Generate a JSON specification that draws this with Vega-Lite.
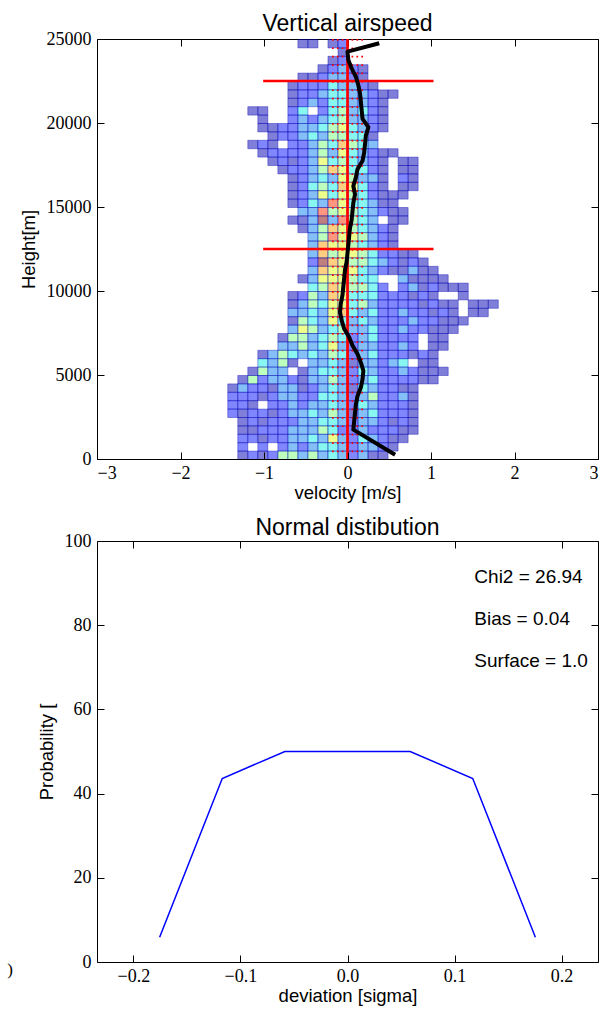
{
"$schema": "https://vega.github.io/schema/vega-lite/v6.json",
"background": "white",
"padding": {"left": 7, "top": 13, "right": 0, "bottom": 5},
"bounds": "flush",
"spacing": 82,
"config": {
  "view": {"stroke": null},
  "axis": {"labelFont": "Liberation Serif", "labelFontSize": 18, "labelColor": "black", "titleFont": "Liberation Sans", "titleFontSize": 18.5, "titleFontWeight": "normal", "titleColor": "black", "domainColor": "black", "tickColor": "black", "tickSize": -7, "grid": false},
  "axisX": {"labelPadding": 12, "titlePadding": 1},
  "axisY": {"labelPadding": 13, "titlePadding": 8},
  "title": {"font": "Liberation Sans", "fontSize": 23, "fontWeight": "normal", "color": "black"}
},
"vconcat": [
{
  "width": 501, "height": 420,
  "title": {"text": "Vertical airspeed", "offset": -24, "baseline": "alphabetic"},
  "layer": [
    {
      "data": {"values": [
{"v":-0.6,"h":24500,"n":0.05},{"v":-0.48,"h":24500,"n":0.05},{"v":-0.24,"h":24500,"n":0.05},{"v":-0.12,"h":24500,"n":0.14},
{"v":-0.12,"h":24000,"n":0.05},
{"v":-0.24,"h":23500,"n":0.05},{"v":-0.12,"h":23500,"n":0.14},
{"v":-0.36,"h":23000,"n":0.05},{"v":-0.24,"h":23000,"n":0.14},{"v":-0.12,"h":23000,"n":0.25},{"v":0,"h":23000,"n":0.14},{"v":0.12,"h":23000,"n":0.05},
{"v":-0.6,"h":22500,"n":0.05},{"v":-0.48,"h":22500,"n":0.05},{"v":-0.36,"h":22500,"n":0.14},{"v":-0.24,"h":22500,"n":0.25},{"v":-0.12,"h":22500,"n":0.25},{"v":0,"h":22500,"n":0.14},{"v":0.12,"h":22500,"n":0.05},
{"v":-0.72,"h":22000,"n":0.05},{"v":-0.6,"h":22000,"n":0.14},{"v":-0.48,"h":22000,"n":0.14},{"v":-0.36,"h":22000,"n":0.14},{"v":-0.24,"h":22000,"n":0.36},{"v":-0.12,"h":22000,"n":0.25},{"v":0,"h":22000,"n":0.25},{"v":0.12,"h":22000,"n":0.14},{"v":0.24,"h":22000,"n":0.05},
{"v":-0.72,"h":21500,"n":0.05},{"v":-0.6,"h":21500,"n":0.14},{"v":-0.48,"h":21500,"n":0.14},{"v":-0.36,"h":21500,"n":0.25},{"v":-0.24,"h":21500,"n":0.36},{"v":-0.12,"h":21500,"n":0.36},{"v":0,"h":21500,"n":0.25},{"v":0.12,"h":21500,"n":0.25},{"v":0.24,"h":21500,"n":0.14},{"v":0.36,"h":21500,"n":0.05},{"v":0.48,"h":21500,"n":0.05},
{"v":-0.72,"h":21000,"n":0.05},{"v":-0.6,"h":21000,"n":0.14},{"v":-0.48,"h":21000,"n":0.25},{"v":-0.36,"h":21000,"n":0.14},{"v":-0.24,"h":21000,"n":0.36},{"v":-0.12,"h":21000,"n":0.36},{"v":0,"h":21000,"n":0.25},{"v":0.12,"h":21000,"n":0.25},{"v":0.24,"h":21000,"n":0.14},{"v":0.36,"h":21000,"n":0.05},
{"v":-1.2,"h":20500,"n":0.05},{"v":-1.08,"h":20500,"n":0.05},{"v":-0.72,"h":20500,"n":0.14},{"v":-0.6,"h":20500,"n":0.36},{"v":-0.36,"h":20500,"n":0.14},{"v":-0.24,"h":20500,"n":0.36},{"v":-0.12,"h":20500,"n":0.5},{"v":0,"h":20500,"n":0.25},{"v":0.12,"h":20500,"n":0.36},{"v":0.24,"h":20500,"n":0.14},{"v":0.36,"h":20500,"n":0.05},
{"v":-1.08,"h":20000,"n":0.05},{"v":-0.72,"h":20000,"n":0.14},{"v":-0.6,"h":20000,"n":0.25},{"v":-0.48,"h":20000,"n":0.14},{"v":-0.36,"h":20000,"n":0.25},{"v":-0.24,"h":20000,"n":0.36},{"v":-0.12,"h":20000,"n":0.5},{"v":0,"h":20000,"n":0.25},{"v":0.12,"h":20000,"n":0.25},{"v":0.24,"h":20000,"n":0.14},{"v":0.36,"h":20000,"n":0.05},
{"v":-1.08,"h":19500,"n":0.05},{"v":-0.96,"h":19500,"n":0.05},{"v":-0.84,"h":19500,"n":0.14},{"v":-0.72,"h":19500,"n":0.14},{"v":-0.6,"h":19500,"n":0.25},{"v":-0.48,"h":19500,"n":0.25},{"v":-0.36,"h":19500,"n":0.36},{"v":-0.24,"h":19500,"n":0.5},{"v":-0.12,"h":19500,"n":0.62},{"v":0,"h":19500,"n":0.36},{"v":0.12,"h":19500,"n":0.25},{"v":0.24,"h":19500,"n":0.14},{"v":0.36,"h":19500,"n":0.05},
{"v":-0.96,"h":19000,"n":0.05},{"v":-0.84,"h":19000,"n":0.14},{"v":-0.72,"h":19000,"n":0.14},{"v":-0.6,"h":19000,"n":0.25},{"v":-0.48,"h":19000,"n":0.36},{"v":-0.36,"h":19000,"n":0.25},{"v":-0.24,"h":19000,"n":0.5},{"v":-0.12,"h":19000,"n":0.5},{"v":0,"h":19000,"n":0.36},{"v":0.12,"h":19000,"n":0.36},{"v":0.24,"h":19000,"n":0.05},
{"v":-1.2,"h":18500,"n":0.05},{"v":-1.08,"h":18500,"n":0.14},{"v":-0.96,"h":18500,"n":0.05},{"v":-0.72,"h":18500,"n":0.14},{"v":-0.6,"h":18500,"n":0.14},{"v":-0.48,"h":18500,"n":0.25},{"v":-0.36,"h":18500,"n":0.5},{"v":-0.24,"h":18500,"n":0.36},{"v":-0.12,"h":18500,"n":0.74},{"v":0,"h":18500,"n":0.5},{"v":0.12,"h":18500,"n":0.36},{"v":0.24,"h":18500,"n":0.25},
{"v":-1.08,"h":18000,"n":0.05},{"v":-0.96,"h":18000,"n":0.14},{"v":-0.84,"h":18000,"n":0.14},{"v":-0.72,"h":18000,"n":0.14},{"v":-0.6,"h":18000,"n":0.14},{"v":-0.48,"h":18000,"n":0.25},{"v":-0.36,"h":18000,"n":0.5},{"v":-0.24,"h":18000,"n":0.25},{"v":-0.12,"h":18000,"n":0.62},{"v":0,"h":18000,"n":0.36},{"v":0.12,"h":18000,"n":0.25},{"v":0.24,"h":18000,"n":0.14},{"v":0.36,"h":18000,"n":0.05},{"v":0.48,"h":18000,"n":0.05},
{"v":-0.96,"h":17500,"n":0.05},{"v":-0.84,"h":17500,"n":0.14},{"v":-0.72,"h":17500,"n":0.05},{"v":-0.6,"h":17500,"n":0.14},{"v":-0.48,"h":17500,"n":0.25},{"v":-0.36,"h":17500,"n":0.62},{"v":-0.24,"h":17500,"n":0.36},{"v":-0.12,"h":17500,"n":0.5},{"v":0,"h":17500,"n":0.36},{"v":0.12,"h":17500,"n":0.25},{"v":0.24,"h":17500,"n":0.14},{"v":0.36,"h":17500,"n":0.05},{"v":0.6,"h":17500,"n":0.05},{"v":0.72,"h":17500,"n":0.05},
{"v":-0.84,"h":17000,"n":0.05},{"v":-0.72,"h":17000,"n":0.14},{"v":-0.6,"h":17000,"n":0.14},{"v":-0.48,"h":17000,"n":0.25},{"v":-0.36,"h":17000,"n":0.5},{"v":-0.24,"h":17000,"n":0.74},{"v":-0.12,"h":17000,"n":0.62},{"v":0,"h":17000,"n":0.36},{"v":0.12,"h":17000,"n":0.36},{"v":0.24,"h":17000,"n":0.14},{"v":0.36,"h":17000,"n":0.05},{"v":0.6,"h":17000,"n":0.05},{"v":0.72,"h":17000,"n":0.05},
{"v":-0.72,"h":16500,"n":0.05},{"v":-0.6,"h":16500,"n":0.14},{"v":-0.48,"h":16500,"n":0.25},{"v":-0.36,"h":16500,"n":0.36},{"v":-0.24,"h":16500,"n":0.25},{"v":-0.12,"h":16500,"n":0.62},{"v":0,"h":16500,"n":0.5},{"v":0.12,"h":16500,"n":0.25},{"v":0.24,"h":16500,"n":0.25},{"v":0.36,"h":16500,"n":0.05},{"v":0.6,"h":16500,"n":0.14},{"v":0.72,"h":16500,"n":0.05},
{"v":-0.72,"h":16000,"n":0.05},{"v":-0.6,"h":16000,"n":0.14},{"v":-0.48,"h":16000,"n":0.36},{"v":-0.36,"h":16000,"n":0.5},{"v":-0.24,"h":16000,"n":0.36},{"v":-0.12,"h":16000,"n":0.74},{"v":0,"h":16000,"n":0.62},{"v":0.12,"h":16000,"n":0.36},{"v":0.24,"h":16000,"n":0.14},{"v":0.36,"h":16000,"n":0.05},{"v":0.6,"h":16000,"n":0.05},{"v":0.72,"h":16000,"n":0.05},
{"v":-0.72,"h":15500,"n":0.05},{"v":-0.6,"h":15500,"n":0.14},{"v":-0.48,"h":15500,"n":0.25},{"v":-0.36,"h":15500,"n":0.62},{"v":-0.24,"h":15500,"n":0.36},{"v":-0.12,"h":15500,"n":0.62},{"v":0,"h":15500,"n":0.5},{"v":0.12,"h":15500,"n":0.36},{"v":0.24,"h":15500,"n":0.14},{"v":0.36,"h":15500,"n":0.05},{"v":0.48,"h":15500,"n":0.05},{"v":0.6,"h":15500,"n":0.05},
{"v":-0.72,"h":15000,"n":0.05},{"v":-0.6,"h":15000,"n":0.14},{"v":-0.48,"h":15000,"n":0.36},{"v":-0.36,"h":15000,"n":0.25},{"v":-0.24,"h":15000,"n":0.86},{"v":-0.12,"h":15000,"n":0.62},{"v":0,"h":15000,"n":0.36},{"v":0.12,"h":15000,"n":0.36},{"v":0.24,"h":15000,"n":0.25},{"v":0.36,"h":15000,"n":0.05},{"v":0.48,"h":15000,"n":0.05},
{"v":-0.6,"h":14500,"n":0.25},{"v":-0.48,"h":14500,"n":0.25},{"v":-0.36,"h":14500,"n":0.86},{"v":-0.24,"h":14500,"n":0.5},{"v":-0.12,"h":14500,"n":0.62},{"v":0,"h":14500,"n":0.5},{"v":0.12,"h":14500,"n":0.36},{"v":0.24,"h":14500,"n":0.25},{"v":0.36,"h":14500,"n":0.14},{"v":0.48,"h":14500,"n":0.05},{"v":0.6,"h":14500,"n":0.05},
{"v":-0.72,"h":14000,"n":0.05},{"v":-0.6,"h":14000,"n":0.05},{"v":-0.48,"h":14000,"n":0.25},{"v":-0.36,"h":14000,"n":1},{"v":-0.24,"h":14000,"n":0.25},{"v":-0.12,"h":14000,"n":0.86},{"v":0,"h":14000,"n":0.5},{"v":0.12,"h":14000,"n":0.36},{"v":0.24,"h":14000,"n":0.25},{"v":0.48,"h":14000,"n":0.05},{"v":0.6,"h":14000,"n":0.05},
{"v":-0.6,"h":13500,"n":0.05},{"v":-0.48,"h":13500,"n":0.25},{"v":-0.36,"h":13500,"n":0.5},{"v":-0.24,"h":13500,"n":0.74},{"v":-0.12,"h":13500,"n":0.62},{"v":0,"h":13500,"n":0.5},{"v":0.12,"h":13500,"n":0.36},{"v":0.24,"h":13500,"n":0.25},{"v":0.36,"h":13500,"n":0.14},{"v":0.48,"h":13500,"n":0.05},
{"v":-0.48,"h":13000,"n":0.25},{"v":-0.36,"h":13000,"n":0.5},{"v":-0.24,"h":13000,"n":0.86},{"v":-0.12,"h":13000,"n":0.62},{"v":0,"h":13000,"n":0.62},{"v":0.12,"h":13000,"n":0.5},{"v":0.24,"h":13000,"n":0.25},{"v":0.36,"h":13000,"n":0.14},{"v":0.48,"h":13000,"n":0.05},
{"v":-0.48,"h":12500,"n":0.25},{"v":-0.36,"h":12500,"n":0.74},{"v":-0.24,"h":12500,"n":0.62},{"v":-0.12,"h":12500,"n":0.62},{"v":0,"h":12500,"n":0.5},{"v":0.12,"h":12500,"n":0.36},{"v":0.24,"h":12500,"n":0.25},{"v":0.36,"h":12500,"n":0.14},{"v":0.48,"h":12500,"n":0.05},
{"v":-0.48,"h":12000,"n":0.25},{"v":-0.36,"h":12000,"n":0.74},{"v":-0.24,"h":12000,"n":0.5},{"v":-0.12,"h":12000,"n":0.62},{"v":0,"h":12000,"n":0.62},{"v":0.12,"h":12000,"n":0.5},{"v":0.24,"h":12000,"n":0.36},{"v":0.36,"h":12000,"n":0.14},{"v":0.48,"h":12000,"n":0.14},{"v":0.6,"h":12000,"n":0.05},{"v":0.72,"h":12000,"n":0.05},
{"v":-0.48,"h":11500,"n":0.14},{"v":-0.36,"h":11500,"n":1},{"v":-0.24,"h":11500,"n":0.74},{"v":-0.12,"h":11500,"n":0.62},{"v":0,"h":11500,"n":0.5},{"v":0.12,"h":11500,"n":0.5},{"v":0.24,"h":11500,"n":0.36},{"v":0.36,"h":11500,"n":0.25},{"v":0.48,"h":11500,"n":0.14},{"v":0.6,"h":11500,"n":0.05},{"v":0.72,"h":11500,"n":0.14},{"v":0.84,"h":11500,"n":0.05},
{"v":-0.48,"h":11000,"n":0.25},{"v":-0.36,"h":11000,"n":0.74},{"v":-0.24,"h":11000,"n":0.62},{"v":-0.12,"h":11000,"n":0.62},{"v":0,"h":11000,"n":0.62},{"v":0.12,"h":11000,"n":0.36},{"v":0.24,"h":11000,"n":0.25},{"v":0.36,"h":11000,"n":0.14},{"v":0.48,"h":11000,"n":0.05},{"v":0.6,"h":11000,"n":0.05},{"v":0.72,"h":11000,"n":0.25},{"v":0.84,"h":11000,"n":0.05},{"v":0.96,"h":11000,"n":0.05},
{"v":-0.6,"h":10500,"n":0.05},{"v":-0.48,"h":10500,"n":0.25},{"v":-0.36,"h":10500,"n":0.62},{"v":-0.24,"h":10500,"n":0.62},{"v":-0.12,"h":10500,"n":0.62},{"v":0,"h":10500,"n":0.5},{"v":0.12,"h":10500,"n":0.36},{"v":0.24,"h":10500,"n":0.36},{"v":0.6,"h":10500,"n":0.25},{"v":0.72,"h":10500,"n":0.05},{"v":0.84,"h":10500,"n":0.05},{"v":0.96,"h":10500,"n":0.05},{"v":1.08,"h":10500,"n":0.05},
{"v":-0.48,"h":10000,"n":0.36},{"v":-0.36,"h":10000,"n":0.5},{"v":-0.24,"h":10000,"n":0.74},{"v":-0.12,"h":10000,"n":0.62},{"v":0,"h":10000,"n":0.5},{"v":0.12,"h":10000,"n":0.5},{"v":0.24,"h":10000,"n":0.36},{"v":0.36,"h":10000,"n":0.14},{"v":0.6,"h":10000,"n":0.14},{"v":0.72,"h":10000,"n":0.25},{"v":0.84,"h":10000,"n":0.05},{"v":0.96,"h":10000,"n":0.14},{"v":1.08,"h":10000,"n":0.05},{"v":1.2,"h":10000,"n":0.05},{"v":1.32,"h":10000,"n":0.05},
{"v":-0.72,"h":9500,"n":0.05},{"v":-0.6,"h":9500,"n":0.14},{"v":-0.48,"h":9500,"n":0.5},{"v":-0.36,"h":9500,"n":0.25},{"v":-0.24,"h":9500,"n":0.74},{"v":-0.12,"h":9500,"n":0.62},{"v":0,"h":9500,"n":0.36},{"v":0.12,"h":9500,"n":0.36},{"v":0.24,"h":9500,"n":0.36},{"v":0.36,"h":9500,"n":0.14},{"v":0.48,"h":9500,"n":0.14},{"v":0.6,"h":9500,"n":0.14},{"v":0.72,"h":9500,"n":0.05},{"v":0.84,"h":9500,"n":0.14},{"v":0.96,"h":9500,"n":0.05},{"v":1.32,"h":9500,"n":0.05},
{"v":-0.72,"h":9000,"n":0.05},{"v":-0.6,"h":9000,"n":0.25},{"v":-0.48,"h":9000,"n":0.5},{"v":-0.36,"h":9000,"n":0.36},{"v":-0.24,"h":9000,"n":0.62},{"v":-0.12,"h":9000,"n":0.62},{"v":0,"h":9000,"n":0.36},{"v":0.12,"h":9000,"n":0.5},{"v":0.24,"h":9000,"n":0.25},{"v":0.36,"h":9000,"n":0.14},{"v":0.48,"h":9000,"n":0.14},{"v":0.6,"h":9000,"n":0.14},{"v":0.72,"h":9000,"n":0.14},{"v":0.84,"h":9000,"n":0.05},{"v":0.96,"h":9000,"n":0.14},{"v":1.08,"h":9000,"n":0.05},{"v":1.2,"h":9000,"n":0.05},{"v":1.44,"h":9000,"n":0.05},{"v":1.56,"h":9000,"n":0.05},{"v":1.68,"h":9000,"n":0.05},
{"v":-0.72,"h":8500,"n":0.25},{"v":-0.6,"h":8500,"n":0.25},{"v":-0.48,"h":8500,"n":0.36},{"v":-0.36,"h":8500,"n":0.25},{"v":-0.24,"h":8500,"n":0.62},{"v":-0.12,"h":8500,"n":0.74},{"v":0,"h":8500,"n":0.36},{"v":0.12,"h":8500,"n":0.25},{"v":0.24,"h":8500,"n":0.36},{"v":0.36,"h":8500,"n":0.14},{"v":0.48,"h":8500,"n":0.14},{"v":0.6,"h":8500,"n":0.25},{"v":0.72,"h":8500,"n":0.14},{"v":0.84,"h":8500,"n":0.14},{"v":0.96,"h":8500,"n":0.05},{"v":1.08,"h":8500,"n":0.14},{"v":1.2,"h":8500,"n":0.05},{"v":1.44,"h":8500,"n":0.05},{"v":1.56,"h":8500,"n":0.05},
{"v":-0.72,"h":8000,"n":0.05},{"v":-0.6,"h":8000,"n":0.5},{"v":-0.48,"h":8000,"n":0.36},{"v":-0.36,"h":8000,"n":0.25},{"v":-0.24,"h":8000,"n":0.62},{"v":-0.12,"h":8000,"n":0.36},{"v":0,"h":8000,"n":0.25},{"v":0.12,"h":8000,"n":0.36},{"v":0.24,"h":8000,"n":0.25},{"v":0.36,"h":8000,"n":0.14},{"v":0.48,"h":8000,"n":0.14},{"v":0.6,"h":8000,"n":0.14},{"v":0.72,"h":8000,"n":0.25},{"v":0.84,"h":8000,"n":0.14},{"v":0.96,"h":8000,"n":0.14},{"v":1.08,"h":8000,"n":0.05},{"v":1.2,"h":8000,"n":0.05},{"v":1.32,"h":8000,"n":0.05},
{"v":-0.72,"h":7500,"n":0.25},{"v":-0.6,"h":7500,"n":0.62},{"v":-0.48,"h":7500,"n":0.5},{"v":-0.36,"h":7500,"n":0.25},{"v":-0.24,"h":7500,"n":0.36},{"v":-0.12,"h":7500,"n":0.5},{"v":0,"h":7500,"n":0.25},{"v":0.12,"h":7500,"n":0.25},{"v":0.24,"h":7500,"n":0.36},{"v":0.36,"h":7500,"n":0.14},{"v":0.48,"h":7500,"n":0.14},{"v":0.6,"h":7500,"n":0.25},{"v":0.72,"h":7500,"n":0.14},{"v":0.84,"h":7500,"n":0.14},{"v":0.96,"h":7500,"n":0.05},{"v":1.08,"h":7500,"n":0.05},{"v":1.2,"h":7500,"n":0.05},
{"v":-0.84,"h":7000,"n":0.05},{"v":-0.72,"h":7000,"n":0.5},{"v":-0.6,"h":7000,"n":0.5},{"v":-0.48,"h":7000,"n":0.25},{"v":-0.36,"h":7000,"n":0.36},{"v":-0.24,"h":7000,"n":0.5},{"v":-0.12,"h":7000,"n":0.36},{"v":0,"h":7000,"n":0.14},{"v":0.12,"h":7000,"n":0.25},{"v":0.24,"h":7000,"n":0.36},{"v":0.36,"h":7000,"n":0.14},{"v":0.48,"h":7000,"n":0.14},{"v":0.6,"h":7000,"n":0.14},{"v":0.72,"h":7000,"n":0.14},{"v":0.96,"h":7000,"n":0.05},{"v":1.08,"h":7000,"n":0.05},
{"v":-0.84,"h":6500,"n":0.25},{"v":-0.72,"h":6500,"n":0.25},{"v":-0.6,"h":6500,"n":0.5},{"v":-0.48,"h":6500,"n":0.25},{"v":-0.36,"h":6500,"n":0.36},{"v":-0.24,"h":6500,"n":0.62},{"v":-0.12,"h":6500,"n":0.25},{"v":0,"h":6500,"n":0.14},{"v":0.12,"h":6500,"n":0.25},{"v":0.24,"h":6500,"n":0.25},{"v":0.36,"h":6500,"n":0.14},{"v":0.48,"h":6500,"n":0.14},{"v":0.6,"h":6500,"n":0.25},{"v":0.72,"h":6500,"n":0.14},{"v":0.96,"h":6500,"n":0.05},{"v":1.08,"h":6500,"n":0.05},
{"v":-1.08,"h":6000,"n":0.05},{"v":-0.96,"h":6000,"n":0.25},{"v":-0.84,"h":6000,"n":0.5},{"v":-0.72,"h":6000,"n":0.36},{"v":-0.6,"h":6000,"n":0.25},{"v":-0.48,"h":6000,"n":0.36},{"v":-0.36,"h":6000,"n":0.25},{"v":-0.24,"h":6000,"n":0.5},{"v":-0.12,"h":6000,"n":0.36},{"v":0,"h":6000,"n":0.14},{"v":0.12,"h":6000,"n":0.25},{"v":0.24,"h":6000,"n":0.36},{"v":0.36,"h":6000,"n":0.14},{"v":0.48,"h":6000,"n":0.14},{"v":0.6,"h":6000,"n":0.14},{"v":0.72,"h":6000,"n":0.05},{"v":0.84,"h":6000,"n":0.14},{"v":0.96,"h":6000,"n":0.05},
{"v":-1.08,"h":5500,"n":0.36},{"v":-0.96,"h":5500,"n":0.25},{"v":-0.84,"h":5500,"n":0.5},{"v":-0.72,"h":5500,"n":0.05},{"v":-0.48,"h":5500,"n":0.25},{"v":-0.36,"h":5500,"n":0.25},{"v":-0.24,"h":5500,"n":0.36},{"v":-0.12,"h":5500,"n":0.25},{"v":0,"h":5500,"n":0.05},{"v":0.12,"h":5500,"n":0.25},{"v":0.24,"h":5500,"n":0.25},{"v":0.36,"h":5500,"n":0.14},{"v":0.48,"h":5500,"n":0.25},{"v":0.6,"h":5500,"n":0.36},{"v":0.84,"h":5500,"n":0.05},{"v":0.96,"h":5500,"n":0.05},
{"v":-1.2,"h":5000,"n":0.05},{"v":-1.08,"h":5000,"n":0.5},{"v":-0.96,"h":5000,"n":0.25},{"v":-0.84,"h":5000,"n":0.25},{"v":-0.6,"h":5000,"n":0.05},{"v":-0.48,"h":5000,"n":0.25},{"v":-0.36,"h":5000,"n":0.36},{"v":-0.24,"h":5000,"n":0.36},{"v":-0.12,"h":5000,"n":0.25},{"v":0,"h":5000,"n":0.14},{"v":0.12,"h":5000,"n":0.36},{"v":0.24,"h":5000,"n":0.25},{"v":0.36,"h":5000,"n":0.14},{"v":0.48,"h":5000,"n":0.14},{"v":0.6,"h":5000,"n":0.25},{"v":0.72,"h":5000,"n":0.14},{"v":0.84,"h":5000,"n":0.05},{"v":0.96,"h":5000,"n":0.05},{"v":1.08,"h":5000,"n":0.05},
{"v":-1.32,"h":4500,"n":0.05},{"v":-1.2,"h":4500,"n":0.5},{"v":-1.08,"h":4500,"n":0.14},{"v":-0.96,"h":4500,"n":0.25},{"v":-0.84,"h":4500,"n":0.25},{"v":-0.72,"h":4500,"n":0.14},{"v":-0.6,"h":4500,"n":0.05},{"v":-0.48,"h":4500,"n":0.25},{"v":-0.36,"h":4500,"n":0.25},{"v":-0.24,"h":4500,"n":0.5},{"v":-0.12,"h":4500,"n":0.25},{"v":0,"h":4500,"n":0.14},{"v":0.12,"h":4500,"n":0.25},{"v":0.24,"h":4500,"n":0.36},{"v":0.36,"h":4500,"n":0.14},{"v":0.48,"h":4500,"n":0.14},{"v":0.6,"h":4500,"n":0.14},{"v":0.72,"h":4500,"n":0.14},{"v":0.84,"h":4500,"n":0.05},{"v":0.96,"h":4500,"n":0.05},
{"v":-1.44,"h":4000,"n":0.05},{"v":-1.32,"h":4000,"n":0.25},{"v":-1.2,"h":4000,"n":0.14},{"v":-1.08,"h":4000,"n":0.14},{"v":-0.96,"h":4000,"n":0.05},{"v":-0.84,"h":4000,"n":0.25},{"v":-0.72,"h":4000,"n":0.25},{"v":-0.6,"h":4000,"n":0.05},{"v":-0.48,"h":4000,"n":0.14},{"v":-0.36,"h":4000,"n":0.25},{"v":-0.24,"h":4000,"n":0.36},{"v":-0.12,"h":4000,"n":0.25},{"v":0,"h":4000,"n":0.05},{"v":0.12,"h":4000,"n":0.36},{"v":0.24,"h":4000,"n":0.25},{"v":0.36,"h":4000,"n":0.14},{"v":0.48,"h":4000,"n":0.14},{"v":0.6,"h":4000,"n":0.05},{"v":0.72,"h":4000,"n":0.05},
{"v":-1.44,"h":3500,"n":0.14},{"v":-1.32,"h":3500,"n":0.14},{"v":-1.2,"h":3500,"n":0.14},{"v":-1.08,"h":3500,"n":0.05},{"v":-0.96,"h":3500,"n":0.14},{"v":-0.84,"h":3500,"n":0.25},{"v":-0.72,"h":3500,"n":0.25},{"v":-0.6,"h":3500,"n":0.14},{"v":-0.48,"h":3500,"n":0.14},{"v":-0.36,"h":3500,"n":0.36},{"v":-0.24,"h":3500,"n":0.36},{"v":-0.12,"h":3500,"n":0.25},{"v":0,"h":3500,"n":0.14},{"v":0.12,"h":3500,"n":0.25},{"v":0.24,"h":3500,"n":0.5},{"v":0.36,"h":3500,"n":0.14},{"v":0.48,"h":3500,"n":0.14},{"v":0.6,"h":3500,"n":0.25},{"v":0.72,"h":3500,"n":0.05},
{"v":-1.44,"h":3000,"n":0.14},{"v":-1.32,"h":3000,"n":0.14},{"v":-1.2,"h":3000,"n":0.05},{"v":-0.96,"h":3000,"n":0.14},{"v":-0.84,"h":3000,"n":0.14},{"v":-0.72,"h":3000,"n":0.25},{"v":-0.6,"h":3000,"n":0.14},{"v":-0.48,"h":3000,"n":0.25},{"v":-0.36,"h":3000,"n":0.25},{"v":-0.24,"h":3000,"n":0.36},{"v":-0.12,"h":3000,"n":0.25},{"v":0,"h":3000,"n":0.14},{"v":0.12,"h":3000,"n":0.36},{"v":0.24,"h":3000,"n":0.25},{"v":0.36,"h":3000,"n":0.14},{"v":0.48,"h":3000,"n":0.14},{"v":0.6,"h":3000,"n":0.14},{"v":0.72,"h":3000,"n":0.05},
{"v":-1.44,"h":2500,"n":0.14},{"v":-1.32,"h":2500,"n":0.05},{"v":-1.2,"h":2500,"n":0.14},{"v":-1.08,"h":2500,"n":0.14},{"v":-0.96,"h":2500,"n":0.05},{"v":-0.84,"h":2500,"n":0.14},{"v":-0.72,"h":2500,"n":0.25},{"v":-0.6,"h":2500,"n":0.25},{"v":-0.48,"h":2500,"n":0.36},{"v":-0.36,"h":2500,"n":0.25},{"v":-0.24,"h":2500,"n":0.5},{"v":-0.12,"h":2500,"n":0.25},{"v":0,"h":2500,"n":0.05},{"v":0.12,"h":2500,"n":0.25},{"v":0.24,"h":2500,"n":0.36},{"v":0.36,"h":2500,"n":0.14},{"v":0.48,"h":2500,"n":0.14},{"v":0.6,"h":2500,"n":0.14},{"v":0.72,"h":2500,"n":0.05},
{"v":-1.32,"h":2000,"n":0.05},{"v":-1.2,"h":2000,"n":0.14},{"v":-1.08,"h":2000,"n":0.05},{"v":-0.96,"h":2000,"n":0.14},{"v":-0.84,"h":2000,"n":0.14},{"v":-0.72,"h":2000,"n":0.14},{"v":-0.6,"h":2000,"n":0.25},{"v":-0.48,"h":2000,"n":0.25},{"v":-0.36,"h":2000,"n":0.36},{"v":-0.24,"h":2000,"n":0.36},{"v":-0.12,"h":2000,"n":0.25},{"v":0,"h":2000,"n":0.14},{"v":0.12,"h":2000,"n":0.25},{"v":0.24,"h":2000,"n":0.25},{"v":0.36,"h":2000,"n":0.14},{"v":0.48,"h":2000,"n":0.05},{"v":0.6,"h":2000,"n":0.14},{"v":0.72,"h":2000,"n":0.05},
{"v":-1.32,"h":1500,"n":0.05},{"v":-1.2,"h":1500,"n":0.05},{"v":-1.08,"h":1500,"n":0.14},{"v":-0.96,"h":1500,"n":0.14},{"v":-0.84,"h":1500,"n":0.14},{"v":-0.72,"h":1500,"n":0.25},{"v":-0.6,"h":1500,"n":0.25},{"v":-0.48,"h":1500,"n":0.25},{"v":-0.36,"h":1500,"n":0.5},{"v":-0.24,"h":1500,"n":0.36},{"v":-0.12,"h":1500,"n":0.14},{"v":0,"h":1500,"n":0.14},{"v":0.12,"h":1500,"n":0.25},{"v":0.24,"h":1500,"n":0.14},{"v":0.36,"h":1500,"n":0.14},{"v":0.48,"h":1500,"n":0.14},{"v":0.6,"h":1500,"n":0.05},{"v":0.72,"h":1500,"n":0.05},
{"v":-1.32,"h":1000,"n":0.14},{"v":-1.2,"h":1000,"n":0.14},{"v":-1.08,"h":1000,"n":0.05},{"v":-0.96,"h":1000,"n":0.14},{"v":-0.84,"h":1000,"n":0.14},{"v":-0.72,"h":1000,"n":0.25},{"v":-0.6,"h":1000,"n":0.25},{"v":-0.48,"h":1000,"n":0.36},{"v":-0.36,"h":1000,"n":0.25},{"v":-0.24,"h":1000,"n":0.62},{"v":-0.12,"h":1000,"n":0.25},{"v":0,"h":1000,"n":0.14},{"v":0.12,"h":1000,"n":0.36},{"v":0.24,"h":1000,"n":0.25},{"v":0.36,"h":1000,"n":0.14},{"v":0.48,"h":1000,"n":0.05},{"v":0.6,"h":1000,"n":0.05},
{"v":-1.32,"h":500,"n":0.14},{"v":-1.08,"h":500,"n":0.14},{"v":-0.84,"h":500,"n":0.14},{"v":-0.72,"h":500,"n":0.25},{"v":-0.6,"h":500,"n":0.14},{"v":-0.48,"h":500,"n":0.25},{"v":-0.36,"h":500,"n":0.36},{"v":-0.24,"h":500,"n":0.36},{"v":-0.12,"h":500,"n":0.25},{"v":0,"h":500,"n":0.14},{"v":0.12,"h":500,"n":0.25},{"v":0.24,"h":500,"n":0.25},{"v":0.36,"h":500,"n":0.14},{"v":0.48,"h":500,"n":0.05},
{"v":-1.32,"h":0,"n":0.05},{"v":-1.2,"h":0,"n":0.14},{"v":-1.08,"h":0,"n":0.05},{"v":-0.96,"h":0,"n":0.14},{"v":-0.84,"h":0,"n":0.5},{"v":-0.72,"h":0,"n":0.5},{"v":-0.6,"h":0,"n":0.25},{"v":-0.48,"h":0,"n":0.5},{"v":-0.36,"h":0,"n":0.25},{"v":-0.24,"h":0,"n":0.36},{"v":-0.12,"h":0,"n":0.25},{"v":0,"h":0,"n":0.14},{"v":0.12,"h":0,"n":0.25},{"v":0.24,"h":0,"n":0.05},{"v":0.36,"h":0,"n":0.05}
      ]},
      "mark": {"type": "rect", "binSpacing": 0, "stroke": "#0000b0", "strokeWidth": 0.7, "fillOpacity": 0.5, "strokeOpacity": 0.55},
      "encoding": {
        "x": {"field": "v", "type": "quantitative", "bin": {"binned": true, "step": 0.12}, "scale": {"domain": [-3, 3], "nice": false, "zero": false}, "axis": {"title": "velocity [m/s]", "values": [-3, -2, -1, 0, 1, 2, 3], "format": "d"}},
        "y": {"field": "h", "type": "quantitative", "bin": {"binned": true, "step": 500}, "scale": {"domain": [0, 25000], "nice": false, "zero": false}, "axis": {"title": "Height[m]", "values": [0, 5000, 10000, 15000, 20000, 25000], "format": "d"}},
        "color": {"field": "n", "type": "quantitative", "legend": null, "scale": {"domain": [0, 0.125, 0.375, 0.5, 0.625, 0.75, 0.875, 1], "range": ["#000080", "#0000ff", "#14ffe2", "#7cff7c", "#e2ff14", "#ff9700", "#ff2200", "#800000"], "interpolate": "rgb"}}
      }
    },
    {
      "data": {"values": [{"d": -0.1755}, {"d": -0.117}, {"d": -0.0585}, {"d": 0.0585}, {"d": 0.117}, {"d": 0.1755}]},
      "mark": {"type": "rule", "color": "red", "strokeWidth": 1.7, "strokeDash": [1.7, 6.7]},
      "encoding": {"x": {"field": "d", "type": "quantitative", "axis": null}}
    },
    {
      "data": {"values": [{"d": 0}]},
      "mark": {"type": "rule", "color": "red", "strokeWidth": 2.7},
      "encoding": {"x": {"field": "d", "type": "quantitative", "axis": null}}
    },
    {
      "data": {"values": [{"h": 12500, "a": -1.01, "b": 1.03}, {"h": 22500, "a": -1.01, "b": 1.03}]},
      "mark": {"type": "rule", "color": "red", "strokeWidth": 2.7},
      "encoding": {"y": {"field": "h", "type": "quantitative", "axis": null}, "x": {"field": "a", "type": "quantitative", "axis": null}, "x2": {"field": "b"}}
    },
    {
      "data": {"values": [
{"m":0.57,"h":250},{"m":0.07,"h":1750},{"m":0.08,"h":2250},{"m":0.09,"h":2750},{"m":0.1,"h":3250},{"m":0.12,"h":3750},{"m":0.16,"h":4250},{"m":0.18,"h":4750},{"m":0.19,"h":5250},{"m":0.16,"h":5750},{"m":0.12,"h":6250},{"m":0.06,"h":6750},{"m":0.02,"h":7250},{"m":-0.04,"h":7750},{"m":-0.07,"h":8250},{"m":-0.09,"h":8750},{"m":-0.08,"h":9250},{"m":-0.06,"h":9750},{"m":-0.05,"h":10250},{"m":-0.04,"h":10750},{"m":-0.03,"h":11250},{"m":-0.01,"h":11750},{"m":0,"h":12250},{"m":0.01,"h":12750},{"m":0.02,"h":13250},{"m":0.03,"h":13750},{"m":0.05,"h":14250},{"m":0.06,"h":14750},{"m":0.07,"h":15250},{"m":0.09,"h":15750},{"m":0.07,"h":16250},{"m":0.1,"h":16750},{"m":0.12,"h":17250},{"m":0.18,"h":17750},{"m":0.2,"h":18250},{"m":0.21,"h":18750},{"m":0.22,"h":19250},{"m":0.25,"h":19750},{"m":0.18,"h":20250},{"m":0.17,"h":20750},{"m":0.16,"h":21250},{"m":0.15,"h":21750},{"m":0.13,"h":22250},{"m":0.1,"h":22750},{"m":0.05,"h":23250},{"m":0.01,"h":23750},{"m":0,"h":24250},{"m":0.38,"h":24750}
      ]},
      "mark": {"type": "line", "color": "black", "strokeWidth": 4, "strokeJoin": "round"},
      "encoding": {
        "x": {"field": "m", "type": "quantitative", "axis": {"orient": "top", "labels": false, "title": null, "values": [-3, -2, -1, 0, 1, 2, 3]}},
        "y": {"field": "h", "type": "quantitative", "axis": {"orient": "right", "labels": false, "title": null, "values": [0, 5000, 10000, 15000, 20000, 25000]}},
        "order": {"field": "h", "type": "quantitative"}
      }
    }
  ],
  "resolve": {"axis": {"x": "independent", "y": "independent"}}
},
{
  "width": 501, "height": 421,
  "title": {"text": "Normal distibution", "offset": -26, "baseline": "alphabetic"},
  "layer": [
    {
      "data": {"values": [{"dev": -0.1755, "p": 5.9}, {"dev": -0.117, "p": 43.6}, {"dev": -0.0585, "p": 50}, {"dev": 0.0585, "p": 50}, {"dev": 0.117, "p": 43.6}, {"dev": 0.1755, "p": 5.9}]},
      "mark": {"type": "line", "color": "#0000ff", "strokeWidth": 1.5},
      "encoding": {
        "x": {"field": "dev", "type": "quantitative", "scale": {"domain": [-0.234, 0.234], "nice": false, "zero": false}, "axis": {"title": "deviation [sigma]", "values": [-0.2, -0.1, 0, 0.1, 0.2], "format": ".1f"}},
        "y": {"field": "p", "type": "quantitative", "scale": {"domain": [0, 100], "nice": false}, "axis": {"title": "Probability [", "values": [0, 20, 40, 60, 80, 100], "format": "d"}}
      }
    },
    {
      "data": {"values": [{"tx": 0.1185, "ty": 90, "label": "Chi2 = 26.94"}, {"tx": 0.1185, "ty": 80, "label": "Bias = 0.04"}, {"tx": 0.1185, "ty": 70, "label": "Surface = 1.0"}]},
      "mark": {"type": "text", "align": "left", "baseline": "alphabetic", "font": "Liberation Sans", "fontSize": 19, "color": "black"},
      "encoding": {
        "x": {"field": "tx", "type": "quantitative", "axis": {"orient": "top", "labels": false, "title": null, "values": [-0.2, -0.1, 0, 0.1, 0.2]}},
        "y": {"field": "ty", "type": "quantitative", "axis": {"orient": "right", "labels": false, "title": null, "values": [0, 20, 40, 60, 80, 100]}},
        "text": {"field": "label"}
      }
    },
    {
      "data": {"values": [{"tx": -0.3153, "ty": -1.9, "label": ")"}]},
      "mark": {"type": "text", "align": "center", "baseline": "middle", "font": "Liberation Serif", "fontSize": 17, "color": "black"},
      "encoding": {
        "x": {"field": "tx", "type": "quantitative", "axis": null},
        "y": {"field": "ty", "type": "quantitative", "axis": null},
        "text": {"field": "label"}
      }
    }
  ],
  "resolve": {"axis": {"x": "independent", "y": "independent"}}
}
]
}
